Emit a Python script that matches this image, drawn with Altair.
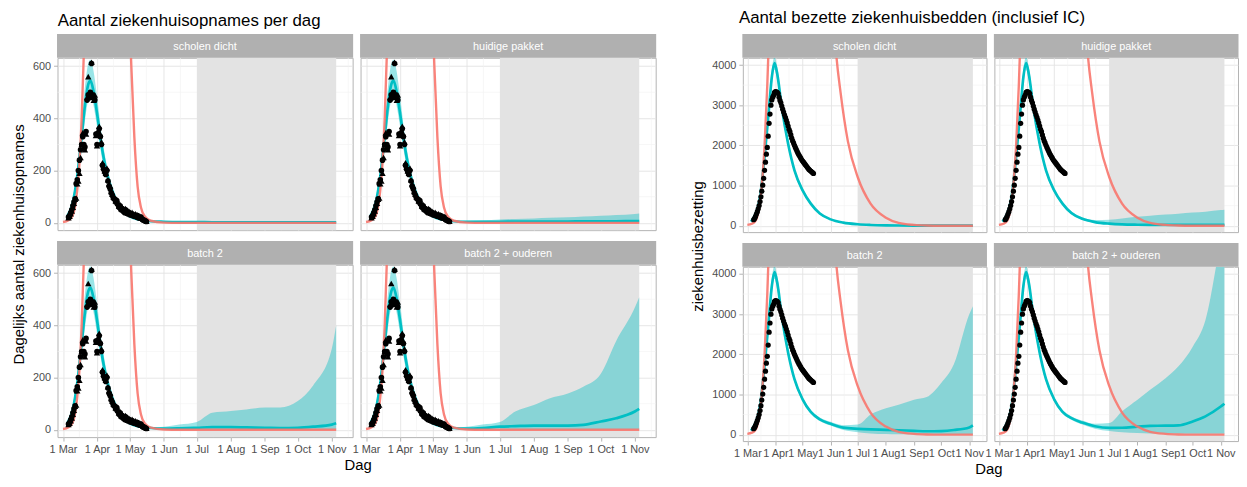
import altair as alt
import pandas as pd

FONT = "Liberation Sans"
TEAL = "#00BFC4"
RED = "#F8766D"
STRIP = "#B0B0B0"
SHADE = "#E3E3E3"

SCENARIOS = ["scholen dicht", "huidige pakket", "batch 2", "batch 2 + ouderen"]

# x-axis breaks (first of each month) and minor breaks
MONTH_BREAKS = [(2020, m, 1) for m in range(3, 12)]
MINOR_X = ["2020-03-16", "2020-04-16", "2020-05-16", "2020-06-16", "2020-07-16",
           "2020-08-16", "2020-09-16", "2020-10-16", "2020-11-16"]
SHADE_START = "2020-07-01"
SHADE_END = "2020-11-05"

# ---------------- observed data ----------------
adm_obs_start = "2020-03-06"
adm_triangles = [20, 25, 35, 45, 60, 75, 90, 95, 150, 160,
                 190, 250, 300, 345, 290, 280, 340, 480, 560, 500,
                 490, 615, 480, 470, 490, 335, 295, 350, 370, 340,
                 310, 230, 215, 200, 190, 210, 165, 150, 140, 120,
                 110, 100, 95, 85, 90, 75, 65, 70, 55, 60,
                 50, 45, 55, 40, 38, 45, 35, 32, 40, 30,
                 28, 35, 25, 30, 22, 20, 25, 18, 15, 12,
                 10, 6]
adm_circles = [22, 28, 38, 50, 65, 80, 92, 150, 165, 200,
               240, 280, 300, 330, 300, 290, 350, 470, 490, 480,
               500, 610, 490, 480, 470, 340, 300, 345, 360, 330,
               300, 220, 205, 195, 185, 200, 160, 140, 130, 115,
               105, 95, 90, 80, 85, 70, 60, 65, 50, 55,
               45, 40, 50, 38, 35, 40, 32, 30, 35, 28,
               25, 30, 22, 28, 20, 18, 22, 15, 12, 10,
               8, 5]

beds_obs_start = "2020-03-08"
beds_obs = [150, 180, 230, 290, 350, 420, 500, 600, 720, 860,
            1010, 1180, 1380, 1580, 1780, 1950, 2230, 2550, 2780, 3000,
            3130, 3200, 3250, 3320, 3340, 3330, 3320, 3290, 3200, 3120,
            3060, 2980, 2900, 2830, 2760, 2700, 2630, 2560, 2480, 2400,
            2340, 2260, 2180, 2110, 2060, 2000, 1950, 1900, 1850, 1800,
            1760, 1720, 1680, 1640, 1610, 1580, 1550, 1520, 1490, 1460,
            1430, 1400, 1380, 1360, 1340, 1320, 1300]

# ---------------- model: common early part ----------------
adm_early_dates = ["2020-03-05", "2020-03-10", "2020-03-14", "2020-03-18", "2020-03-21",
                   "2020-03-24", "2020-03-26", "2020-03-28", "2020-04-01", "2020-04-05",
                   "2020-04-10", "2020-04-15", "2020-04-20", "2020-04-25", "2020-05-01"]
adm_early_line = [25, 80, 180, 330, 450, 530, 545, 520, 420, 300, 190, 120, 75, 45, 25]
adm_early_low = [20, 65, 150, 280, 390, 470, 490, 465, 370, 260, 165, 100, 62, 37, 20]
adm_early_high = [30, 95, 215, 390, 520, 610, 625, 600, 485, 345, 220, 140, 88, 54, 30]

beds_early_dates = ["2020-03-05", "2020-03-08", "2020-03-15", "2020-03-20", "2020-03-25",
                    "2020-03-28", "2020-03-31", "2020-04-03", "2020-04-08", "2020-04-15",
                    "2020-04-22", "2020-05-01"]
beds_early_line = [100, 200, 720, 1710, 2950, 3700, 4050, 3780, 2950, 2040, 1380, 880]
beds_early_low = [85, 170, 640, 1560, 2750, 3500, 3880, 3620, 2820, 1950, 1310, 830]
beds_early_high = [115, 230, 800, 1860, 3150, 3900, 4200, 3950, 3080, 2130, 1450, 930]

# ---------------- model: scenario projections ----------------
proj_dates = ["2020-05-10", "2020-05-20", "2020-06-01", "2020-06-15", "2020-07-01",
              "2020-07-15", "2020-08-01", "2020-08-15", "2020-09-01", "2020-09-15",
              "2020-10-01", "2020-10-15", "2020-11-01", "2020-11-05"]

adm_line_scholen = [12, 6, 4, 3, 3, 2, 2, 2, 2, 2, 2, 2, 2, 2]
adm_low_scholen = [9, 4, 2, 1, 1, 1, 1, 1, 1, 1, 1, 1, 1, 1]
adm_high_scholen = [15, 8, 6, 5, 5, 4, 4, 4, 4, 4, 4, 4, 4, 4]

adm_line_huidig = [12, 6, 4, 4, 4, 5, 5, 5, 5, 6, 6, 6, 7, 7]
adm_low_huidig = [9, 4, 2, 1, 1, 1, 1, 1, 1, 1, 1, 1, 1, 1]
adm_high_huidig = [15, 9, 8, 10, 13, 15, 17, 19, 21, 24, 27, 30, 34, 36]

adm_line_batch2 = [12, 7, 5, 6, 8, 10, 10, 9, 8, 7, 8, 12, 20, 25]
adm_low_batch2 = [9, 4, 2, 1, 0, 0, 0, 0, 0, 0, 0, 0, 0, 0]
adm_high_batch2 = [15, 10, 12, 20, 30, 65, 72, 78, 85, 85, 110, 170, 310, 400]

adm_line_ouderen = [12, 7, 5, 7, 12, 14, 16, 16, 16, 19, 32, 44, 70, 80]
adm_low_ouderen = [9, 4, 2, 1, 0, 0, 0, 0, 0, 0, 0, 0, 0, 0]
adm_high_ouderen = [15, 10, 12, 20, 30, 70, 95, 120, 139, 165, 215, 340, 468, 508]

beds_line_scholen = [550, 305, 157, 75, 35, 18, 8, 5, 3, 2, 2, 2, 2, 2]
beds_low_scholen = [510, 280, 140, 65, 28, 13, 5, 3, 2, 1, 1, 1, 1, 1]
beds_high_scholen = [590, 330, 175, 90, 45, 25, 12, 8, 6, 5, 5, 5, 5, 5]

beds_line_huidig = [555, 315, 170, 90, 50, 32, 24, 21, 20, 20, 20, 21, 22, 22]
beds_low_huidig = [515, 285, 150, 70, 30, 15, 8, 5, 4, 3, 3, 3, 3, 3]
beds_high_huidig = [600, 360, 210, 140, 150, 180, 220, 250, 280, 300, 330, 350, 390, 400]

beds_line_batch2 = [565, 380, 270, 175, 145, 130, 120, 110, 95, 85, 90, 115, 180, 230]
beds_low_batch2 = [525, 340, 225, 115, 60, 30, 15, 8, 5, 3, 3, 3, 3, 3]
beds_high_batch2 = [610, 430, 320, 235, 250, 500, 660, 745, 870, 935, 1285, 1750, 3000, 3200]

beds_line_ouderen = [575, 410, 300, 210, 170, 172, 200, 220, 223, 231, 330, 455, 700, 770]
beds_low_ouderen = [535, 370, 250, 150, 90, 60, 40, 30, 25, 20, 20, 20, 20, 20]
beds_high_ouderen = [620, 460, 350, 270, 290, 580, 870, 1115, 1405, 1694, 2190, 2851, 4800, 5200]

# ---------------- unmitigated scenario (red) ----------------
red_adm_dates = ["2020-03-01", "2020-03-06", "2020-03-10", "2020-03-13", "2020-03-16",
                 "2020-03-18", "2020-03-20", "2020-03-25", "2020-04-10", "2020-04-22",
                 "2020-04-28", "2020-05-02", "2020-05-05", "2020-05-08", "2020-05-11",
                 "2020-05-15", "2020-05-20", "2020-06-01", "2020-06-15", "2020-11-05"]
red_adm_vals = [3, 10, 30, 90, 230, 400, 650, 1500, 3000, 2000,
                1100, 630, 330, 140, 60, 22, 8, 1, 0, 0]

red_bed_dates = ["2020-03-01", "2020-03-06", "2020-03-10", "2020-03-15", "2020-03-20",
                 "2020-03-23", "2020-03-26", "2020-04-20", "2020-05-20", "2020-06-01",
                 "2020-06-07", "2020-06-12", "2020-06-20", "2020-07-01", "2020-07-15",
                 "2020-08-01", "2020-08-15", "2020-09-01", "2020-09-15", "2020-10-01",
                 "2020-11-05"]
red_bed_vals = [20, 50, 120, 600, 2000, 3500, 5500, 25000, 12000, 6500,
                4300, 3300, 2100, 1200, 550, 200, 70, 20, 5, 0, 0]

ADM_PROJ = {
    "scholen dicht": (adm_line_scholen, adm_low_scholen, adm_high_scholen),
    "huidige pakket": (adm_line_huidig, adm_low_huidig, adm_high_huidig),
    "batch 2": (adm_line_batch2, adm_low_batch2, adm_high_batch2),
    "batch 2 + ouderen": (adm_line_ouderen, adm_low_ouderen, adm_high_ouderen),
}
BED_PROJ = {
    "scholen dicht": (beds_line_scholen, beds_low_scholen, beds_high_scholen),
    "huidige pakket": (beds_line_huidig, beds_low_huidig, beds_high_huidig),
    "batch 2": (beds_line_batch2, beds_low_batch2, beds_high_batch2),
    "batch 2 + ouderen": (beds_line_ouderen, beds_low_ouderen, beds_high_ouderen),
}


def dt(y, m, d):
    return alt.DateTime(year=y, month=m, date=d, utc=True)


X_DOMAIN = [dt(2020, 2, 25), dt(2020, 11, 20)]
X_VALUES = [dt(*b) for b in MONTH_BREAKS]

CFG = {
    "adm": dict(w=298, h=174, domain=[-28, 632], ticks=[0, 200, 400, 600],
                minor=[100, 300, 500], proj=ADM_PROJ,
                early=(adm_early_dates, adm_early_line, adm_early_low, adm_early_high),
                red=(red_adm_dates, red_adm_vals)),
    "beds": dict(w=246, h=176, domain=[-160, 4180], ticks=[0, 1000, 2000, 3000, 4000],
                 minor=[500, 1500, 2500, 3500], proj=BED_PROJ,
                 early=(beds_early_dates, beds_early_line, beds_early_low, beds_early_high),
                 red=(red_bed_dates, red_bed_vals)),
}
STRIP_H = 24


def obs_frame(start, vals):
    return pd.DataFrame({
        "d": pd.date_range(start, periods=len(vals), freq="D").strftime("%Y-%m-%d"),
        "v": vals,
    })


def make_panel(kind, i):
    scen = SCENARIOS[i]
    left = i % 2 == 0
    bottom = i >= 2
    c = CFG[kind]
    w = c["w"]
    xs = alt.Scale(type="utc", domain=X_DOMAIN, nice=False)
    ys = alt.Scale(domain=c["domain"], nice=False, zero=False)
    if bottom:
        xa = alt.Axis(values=X_VALUES, format="%-d %b", labelOverlap=False, labelFlush=False,
                      grid=True, title=None, ticks=True, domain=False)
    else:
        xa = alt.Axis(values=X_VALUES, labels=False, ticks=False, grid=True, title=None, domain=False)
    if left:
        ya = alt.Axis(values=c["ticks"], format="d", grid=True, title=None, domain=False,
                      labelFlush=False)
    else:
        ya = alt.Axis(values=c["ticks"], labels=False, ticks=False, grid=True, title=None, domain=False)

    def X(f):
        return alt.X(f, type="temporal", scale=xs, axis=xa)

    def Y(f):
        return alt.Y(f, type="quantitative", scale=ys, axis=ya)

    ed, el, elo, ehi = c["early"]
    pl, plo, phi = c["proj"][scen]
    model = pd.DataFrame({
        "d": list(ed) + list(proj_dates),
        "m": list(el) + list(pl),
        "lo": list(elo) + list(plo),
        "hi": list(ehi) + list(phi),
    })
    red = pd.DataFrame({"d": c["red"][0], "r": c["red"][1]})

    minor_x = alt.Chart(pd.DataFrame({"d": MINOR_X})).mark_rule(
        color="#F1F1F1", strokeWidth=0.6).encode(x=X("d"))
    minor_y = alt.Chart(pd.DataFrame({"v": c["minor"]})).mark_rule(
        color="#F1F1F1", strokeWidth=0.6).encode(y=Y("v"))
    shade = alt.Chart(pd.DataFrame({"s": [SHADE_START], "e": [SHADE_END]})).mark_rect(
        color=SHADE).encode(x=X("s"), x2=alt.X2("e"))
    ribbon = alt.Chart(model).mark_area(color=TEAL, opacity=0.4, clip=True,
                                        interpolate="monotone").encode(
        x=X("d"), y=Y("lo"), y2=alt.Y2("hi"))
    teal = alt.Chart(model).mark_line(color=TEAL, strokeWidth=2.7, clip=True,
                                      interpolate="monotone").encode(x=X("d"), y=Y("m"))
    redl = alt.Chart(red).mark_line(color=RED, strokeWidth=2.4, opacity=0.9, clip=True,
                                    interpolate="monotone").encode(x=X("d"), y=Y("r"))
    layers = [minor_x, minor_y, shade, ribbon, teal, redl]
    if kind == "adm":
        tri = alt.Chart(obs_frame(adm_obs_start, adm_triangles)).mark_point(
            shape="triangle-up", filled=True, color="black", size=42, opacity=1, clip=True).encode(
            x=X("d"), y=Y("v"))
        cir = alt.Chart(obs_frame(adm_obs_start, adm_circles)).mark_point(
            shape="circle", filled=True, color="black", size=32, opacity=1, clip=True).encode(
            x=X("d"), y=Y("v"))
        layers += [cir, tri]
    else:
        pts = alt.Chart(obs_frame(beds_obs_start, beds_obs)).mark_point(
            shape="circle", filled=True, color="black", size=28, opacity=1, clip=True).encode(
            x=X("d"), y=Y("v"))
        layers += [pts]

    # facet strip drawn just above the plot area
    sbase = alt.Chart(pd.DataFrame({"label": [scen]}))
    sbg = sbase.mark_rect(color=STRIP).encode(
        x=alt.value(-0.5), x2=alt.value(w + 0.5), y=alt.value(-STRIP_H), y2=alt.value(0))
    stx = sbase.mark_text(color="white", fontSize=11, font=FONT, baseline="middle").encode(
        text="label:N", x=alt.value(w / 2), y=alt.value(-STRIP_H / 2 + 1))
    layers += [sbg, stx]
    return alt.layer(*layers).properties(width=w, height=c["h"])


def make_block(kind, title, ytitle, title_dx, title_offset):
    rows = alt.vconcat(
        alt.hconcat(make_panel(kind, 0), make_panel(kind, 1), spacing=8, bounds="flush"),
        alt.hconcat(make_panel(kind, 2), make_panel(kind, 3), spacing=8, bounds="flush"),
        spacing=9,
        title=alt.TitleParams(ytitle, orient="left", anchor="middle", fontSize=15,
                              font=FONT, fontWeight="normal", color="black", offset=5),
    )
    with_x = alt.vconcat(rows, title=alt.TitleParams(
        "Dag", orient="bottom", anchor="middle", fontSize=15, font=FONT,
        fontWeight="normal", color="black", offset=3, dx=24))
    return alt.vconcat(with_x, title=alt.TitleParams(
        title, anchor="start", fontSize=17, font=FONT, fontWeight="normal",
        color="black", offset=title_offset, dx=title_dx))


left_block = make_block("adm", "Aantal ziekenhuisopnames per dag",
                        "Dagelijks aantal ziekenhuisopnames", 46, 4)
right_block = make_block("beds", "Aantal bezette ziekenhuisbedden (inclusief IC)",
                         "ziekenhuisbezetting", 48, 7)

chart = alt.hconcat(left_block, right_block, spacing=35).properties(
    padding={"left": 4, "top": -2, "right": 0, "bottom": 0}
).configure_view(
    stroke="#B3B3B3", strokeWidth=1
).configure_axis(
    gridColor="#E3E3E3", gridWidth=0.9, tickColor="#B3B3B3", tickSize=4,
    labelColor="#4D4D4D", labelFontSize=11, labelFont=FONT, labelPadding=3
).configure_title(font=FONT, fontWeight="normal", color="black")

chart.save("out.html", embed_options={"renderer": "svg", "actions": False})
